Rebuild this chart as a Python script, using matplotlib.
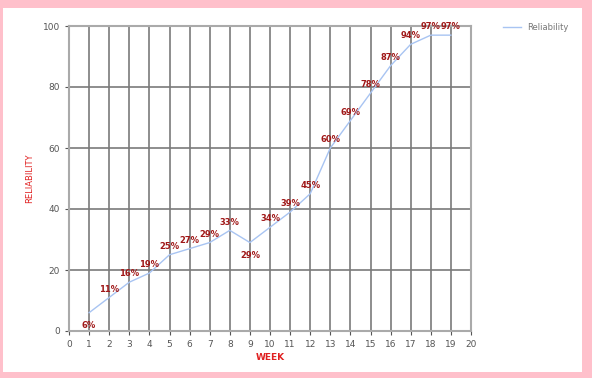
import matplotlib
matplotlib.use("Agg")
import matplotlib.pyplot as plt
from matplotlib.patches import Rectangle

weeks = list(range(1, 20))
reliability = [6, 11, 16, 19, 25, 27, 29, 33, 29, 34, 39, 45, 60, 69, 78, 87, 94, 97, 97]
below_labels = [1, 9]

W, H = 592, 378
fig = plt.figure(figsize=(W/100, H/100), dpi=100)
fig.patch.set_facecolor("white")

pink = "#FFC0CB"
# pink border
fig.add_artist(Rectangle((0, 1 - 8/H), 1, 8/H, transform=fig.transFigure, color=pink, lw=0))
fig.add_artist(Rectangle((0, 0), 1, 6/H, transform=fig.transFigure, color=pink, lw=0))
fig.add_artist(Rectangle((0, 0), 3/W, 1, transform=fig.transFigure, color=pink, lw=0))
fig.add_artist(Rectangle((1 - 10/W, 0), 10/W, 1, transform=fig.transFigure, color=pink, lw=0))

ax = fig.add_axes([69/W, 1 - 331/H, (471-69)/W, (331-26)/H])
ax.set_xlim(0, 20)
ax.set_ylim(0, 100)
ax.set_xticks(range(0, 21))
ax.set_yticks(range(0, 101, 20))
ax.grid(True, color="#7a7a7a", lw=1.2)
ax.set_axisbelow(True)
for s in ax.spines.values():
    s.set_color("#aaaaaa")
    s.set_linewidth(1.5)
ax.tick_params(labelsize=6.5, colors="#555555", length=3, width=0.8, labelcolor="#555555")

ax.plot(weeks, reliability, color="#a8c4f2", lw=1, label="Reliability", zorder=3)
for w, r in zip(weeks, reliability):
    off = -9 if w in below_labels else 6
    ax.annotate(f"{r}%", (w, r), xytext=(0, off), textcoords="offset points",
                ha="center", va="center", fontsize=6, color="#a01818",
                fontweight="bold", zorder=4)

ax.set_xlabel("WEEK", color="#e02020", fontsize=6.5, fontweight="bold", labelpad=3)
ax.set_ylabel("RELIABILITY", color="#e02020", fontsize=6, labelpad=6)

leg = fig.legend(loc="upper left", bbox_to_anchor=(495/W, 1 - 15/H), frameon=False,
                 fontsize=6, handlelength=2.2, labelcolor="#777777")

fig.savefig("out.png", dpi=100, facecolor="white")
